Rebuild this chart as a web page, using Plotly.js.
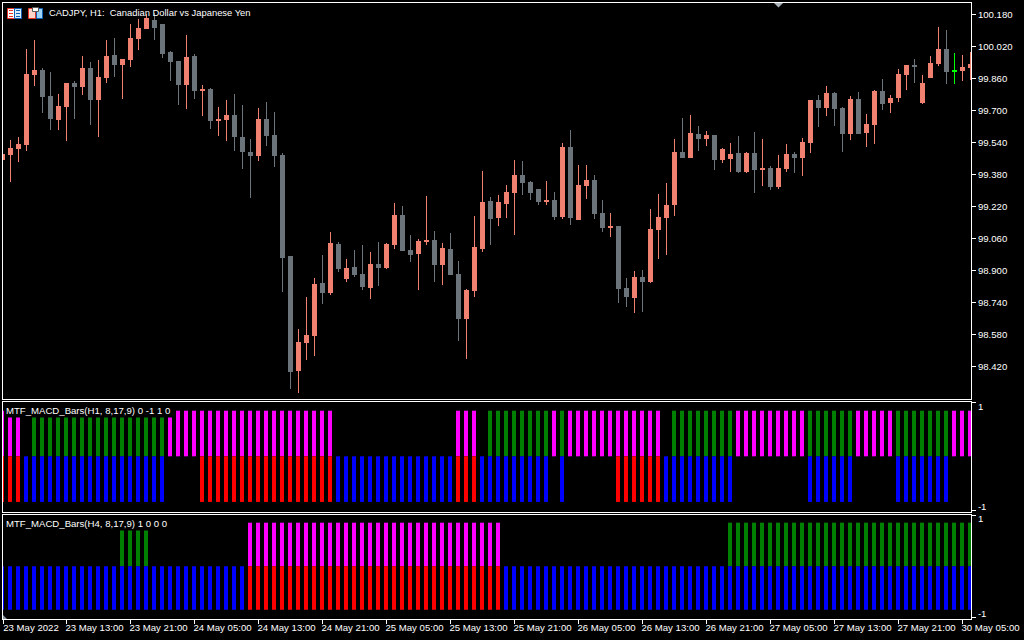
<!DOCTYPE html>
<html>
<head>
<meta charset="utf-8">
<script src="https://cdn.plot.ly/plotly-3.0.0.min.js"></script>
<style>
html,body{margin:0;padding:0;background:#000;overflow:hidden}
#chart{width:1024px;height:640px}
.boxlayer path{shape-rendering:crispEdges}
</style>
</head>
<body>
<div id="chart"></div>
<script>
const opens = [99.4545,99.4795,99.5095,99.5295,99.8795,99.8995,99.7695,99.6545,99.7195,99.8345,99.8195,99.9095,99.7545,99.8645,99.9745,99.9295,99.9545,100.0595,100.1095,100.1495,100.1295,99.9895,99.9445,99.8295,99.9695,99.7995,99.8045,99.6495,99.6545,99.6745,99.5645,99.4895,99.4745,99.6545,99.5745,99.4745,98.9695,98.3995,98.5395,98.5745,98.8345,98.7895,99.0295,98.8595,98.9145,98.8795,98.8145,98.9295,98.9145,99.0295,99.1745,98.9995,98.9845,99.0445,99.0495,98.9295,99.0045,98.8795,98.6595,98.7995,99.0095,99.2445,99.1645,99.2345,99.2895,99.3745,99.3395,99.3045,99.2445,99.2495,99.1695,99.5145,99.1545,99.3245,99.3495,99.1845,99.1145,99.1195,98.8095,98.7645,98.8645,98.8445,99.1045,99.1645,99.2295,99.4895,99.4645,99.5795,99.5595,99.5745,99.4545,99.4595,99.4845,99.3945,99.4845,99.4045,99.4095,99.3195,99.4095,99.4795,99.4645,99.5395,99.7495,99.7145,99.7845,99.7095,99.5845,99.7545,99.5895,99.6295,99.7945,99.7395,99.7645,99.8795,99.9245,99.7395,99.8645,99.9345,100.0045,99.8945,99.8995,99.9145];
const closes = [99.4795,99.5095,99.5295,99.8795,99.8995,99.7695,99.6595,99.7195,99.8345,99.8195,99.9095,99.7545,99.8645,99.9695,99.9295,99.9545,100.0595,100.1095,100.1595,100.1145,99.9845,99.9445,99.8295,99.9645,99.7995,99.8045,99.6495,99.6545,99.6745,99.5695,99.4945,99.4745,99.6545,99.5745,99.4745,98.9645,98.3945,98.5395,98.5745,98.8295,98.7895,99.0345,98.9095,98.9095,98.8795,98.8195,98.9295,98.9145,99.0295,99.1745,98.9995,98.9795,99.0445,99.0495,98.9295,99.0095,98.8795,98.6595,98.7995,99.0145,99.2395,99.1595,99.2395,99.2895,99.3745,99.3395,99.2895,99.2445,99.2495,99.1695,99.5145,99.1645,99.3245,99.3495,99.1845,99.1145,99.1195,98.8095,98.7695,98.8645,98.8445,99.1045,99.1645,99.2245,99.4895,99.4645,99.5845,99.5595,99.5745,99.4545,99.5045,99.4795,99.3945,99.4845,99.4045,99.4095,99.3195,99.4095,99.4795,99.4645,99.5395,99.7495,99.7145,99.7845,99.7095,99.5845,99.7545,99.5845,99.6295,99.7945,99.7345,99.7595,99.8795,99.9245,99.9195,99.8345,99.9345,100.0045,99.8945,99.8995,99.9145,99.9295];
const highs = [99.492,99.552,99.567,100.007,100.052,99.912,99.892,99.782,99.837,99.847,99.972,99.942,99.952,100.052,100.062,99.957,100.132,100.157,100.182,100.187,100.132,99.997,99.947,100.077,99.982,99.827,99.812,99.717,99.752,99.782,99.727,99.557,99.712,99.742,99.692,99.487,98.972,98.607,98.767,98.862,98.977,99.092,99.042,98.957,99.002,99.027,98.992,99.042,99.037,99.237,99.222,99.077,99.057,99.272,99.097,99.037,99.087,98.947,98.807,99.172,99.397,99.267,99.277,99.327,99.452,99.447,99.347,99.307,99.347,99.292,99.537,99.602,99.427,99.427,99.377,99.252,99.187,99.122,98.862,98.897,98.902,99.207,99.282,99.337,99.557,99.662,99.677,99.622,99.597,99.577,99.512,99.537,99.572,99.492,99.592,99.557,99.422,99.477,99.532,99.492,99.562,99.752,99.777,99.822,99.792,99.717,99.772,99.792,99.682,99.802,99.857,99.777,99.907,99.927,99.957,99.877,99.972,100.117,100.102,99.987,99.977,99.992];
const lows = [99.437,99.342,99.442,99.497,99.822,99.687,99.602,99.602,99.547,99.657,99.777,99.627,99.567,99.837,99.867,99.757,99.917,100.002,100.107,100.052,99.962,99.847,99.727,99.707,99.757,99.672,99.607,99.572,99.547,99.497,99.407,99.262,99.447,99.522,99.417,98.792,98.307,98.287,98.452,98.472,98.732,98.777,98.892,98.842,98.867,98.802,98.757,98.822,98.907,99.007,98.997,98.942,98.802,99.027,98.842,98.827,98.877,98.547,98.457,98.767,98.992,99.027,99.122,99.162,99.077,99.277,99.252,99.227,99.227,99.152,99.157,99.127,99.152,99.257,99.157,99.092,99.067,98.737,98.717,98.687,98.692,98.837,98.957,98.977,99.172,99.462,99.462,99.497,99.522,99.402,99.437,99.392,99.387,99.387,99.287,99.322,99.302,99.307,99.392,99.387,99.372,99.487,99.617,99.672,99.622,99.492,99.552,99.582,99.517,99.532,99.702,99.687,99.742,99.802,99.837,99.732,99.862,99.922,99.832,99.832,99.847,99.852];
const liveBar = 119;

// MACD histogram states, one character per bar: m magenta, g green, r red, b blue, - empty
const h1Upper = ("mmm-"+"ggggggggggggggggg"+"mmmm"+"mmmmmmmmmmmmmmmmm"+"---------------"+"mmm-"+"gggggggg"+"mg"+"mmmmmmmmmmmm"+"-"+"gggggggg"+"mmmmmmmmm"+"gggggg"+"mmmmm"+"ggggggg"+"mmm").split("");
const h1Lower = ("rrrb"+"bbbbbbbbbbbbbbbbb"+"----"+"rrrrrrrrrrrrrrrrr"+"bbbbbbbbbbbbbbb"+"rrrb"+"bbbbbbbb"+"-b"+"------"+"rrrrrr"+"b"+"bbbbbbbb"+"---------"+"bbbbbb"+"-----"+"bbbbbbb"+"---").split("");
const h4Upper = ("---------------"+"gggg"+"------------"+"mmmmmmmmmmmmmmmmmmmmmmmmmmmmmmmm"+"----------------------------"+"ggggggggggggggggggggggggggggggg").split("");
const h4Lower = ("bbbbbbbbbbbbbbbbbbbbbbbbbbbbbbb"+"rrrrrrrrrrrrrrrrrrrrrrrrrrrrrrrr"+"bbbbbbbbbbbbbbbbbbbbbbbbbbbbbbbbbbbbbbbbbbbbbbbbbbbbbbbbbbb").split("");

const h1Level = {up:0.84, down:-0.84};
const h4Level = {up:0.85, down:-0.85};
const h1Title = "MTF_MACD_Bars(H1, 8,17,9) 0 -1 1 0";
const h4Title = "MTF_MACD_Bars(H4, 8,17,9) 1 0 0 0";
const chartTitle = "CADJPY, H1:\u00a0\u00a0Canadian Dollar vs Japanese Yen";
const priceTicks = [100.18,100.02,99.86,99.70,99.54,99.38,99.22,99.06,98.90,98.74,98.58,98.42];
const priceLabels = ["100.180","100.020","99.860","99.700","99.540","99.380","99.220","99.060","98.900","98.740","98.580","98.420"];
const timeLabels = ["23 May 2022","23 May 13:00","23 May 21:00","24 May 05:00","24 May 13:00","24 May 21:00","25 May 05:00","25 May 13:00","25 May 21:00","26 May 05:00","26 May 13:00","26 May 21:00","27 May 05:00","27 May 13:00","27 May 21:00","30 May 05:00"];

const BULL="#f08070", BEAR="#6b737b", LIVE="#00ff00";
const COLORS={m:"#ff00ff",g:"#008000",r:"#ff0000",b:"#0000ff"};
const FONT="Liberation Sans, Arial, sans-serif";
const xRange=[0.0625,121.0625];
const barX=opens.map((_,i)=>i);
const keep=barX.filter(i=>i!==liveBar);
const pick=(a,idx)=>idx.map(i=>a[i]);

function candle(idx,up,down,name){
  return {type:"candlestick",xaxis:"x",yaxis:"y",name,x:idx,
    open:pick(opens,idx),high:pick(highs,idx),low:pick(lows,idx),close:pick(closes,idx),
    whiskerwidth:0,hoverinfo:"skip",showlegend:false,
    increasing:{line:{color:up,width:1},fillcolor:up},
    decreasing:{line:{color:down,width:1},fillcolor:down}};
}
function bars(states,key,level,xa,ya){
  const idx=barX.filter(i=>states[i]===key);
  return {type:"bar",x:idx,y:idx.map(()=>level),xaxis:xa,yaxis:ya,width:0.5,offset:-0.3125,
    marker:{color:COLORS[key],line:{width:0}},hoverinfo:"skip",showlegend:false};
}
const traces=[
  candle(keep,BULL,BEAR,"CADJPY"),
  candle([liveBar],LIVE,LIVE,"live"),
  bars(h1Upper,"m",h1Level.up,"x2","y2"),bars(h1Upper,"g",h1Level.up,"x2","y2"),
  bars(h1Lower,"r",h1Level.down,"x2","y2"),bars(h1Lower,"b",h1Level.down,"x2","y2"),
  bars(h4Upper,"m",h4Level.up,"x3","y3"),bars(h4Upper,"g",h4Level.up,"x3","y3"),
  bars(h4Lower,"r",h4Level.down,"x3","y3"),bars(h4Lower,"b",h4Level.down,"x3","y3")
];

const W=968,H=616;
const px=x=>(x-3)/W, py=y=>(619-y)/H;
function rect(x0,y0,x1,y1,fill,line){
  return {type:"rect",xref:"paper",yref:"paper",x0:px(x0),x1:px(x1),y0:py(y0),y1:py(y1),
    fillcolor:fill,line:{color:line||fill,width:line?1:0},layer:"above"};
}
function tri(pts,fill){
  return {type:"path",xref:"paper",yref:"paper",
    path:pts.map((p,i)=>(i?"L":"M")+px(p[0])+","+py(p[1])).join(" ")+" Z",
    fillcolor:fill,line:{width:0},layer:"above"};
}
const shapes=[
  rect(7.5,8.5,14.5,18.5,"#ffffff","#e8332a"),
  rect(14.5,8.5,21.5,18.5,"#d8ecfa","#0f5fb5"),
  rect(9,10,13,11,"#e8332a"),rect(9,13,13,14,"#e8332a"),rect(9,16,13,17,"#e8332a"),
  rect(16,10,20,11,"#0f5fb5"),rect(16,13,20,14,"#0f5fb5"),rect(16,16,20,17,"#0f5fb5"),
  rect(28.5,8.5,35.5,18.5,"#fbd3c8","#e8332a"),
  rect(36.5,8.5,42.5,18.5,"#9fd3f5","#0f5fb5"),
  rect(32.5,7.5,38.5,11.5,"#ffffff","#555555"),
  tri([[774,3],[783,3],[778.5,7.5]],"#aab2ba"),
  tri([[3,615],[3,619],[7,619]],"#8a98a5")
];
const lab=(text,top)=>({text,xref:"paper",yref:"paper",x:px(3.5),y:py(top),xanchor:"left",yanchor:"top",
  showarrow:false,align:"left",bgcolor:"#000000",borderpad:1,width:165,height:12,
  font:{family:FONT,size:9.6,color:"#ffffff"}});

const xBase={type:"linear",range:xRange,showgrid:false,zeroline:false,showline:true,mirror:true,
  linecolor:"#ffffff",linewidth:1,ticks:"",showticklabels:false,fixedrange:true};
const yBase={showgrid:false,zeroline:false,showline:true,mirror:true,linecolor:"#ffffff",linewidth:1,side:"right",
  ticks:"outside",ticklen:4,tickwidth:1,tickfont:{family:FONT,size:9.6,color:"#ffffff"},fixedrange:true};
const signalY=(a)=>Object.assign({},yBase,a,{
  tickmode:"array",tickvals:[0.92,-0.92],ticktext:["1","-1"],tickcolor:"rgba(0,0,0,0)",
  minor:{tickmode:"array",tickvals:[1,-1],ticks:"outside",ticklen:4,tickwidth:1,tickcolor:"#ffffff",showgrid:false}});

const layout={
  width:1024,height:640,paper_bgcolor:"#000000",plot_bgcolor:"#000000",
  margin:{l:3,r:53,t:3,b:21,pad:0},showlegend:false,
  boxmode:"overlay",boxgap:0.5,boxgroupgap:0,barmode:"overlay",
  font:{family:FONT,size:9.6,color:"#ffffff"},
  title:{text:chartTitle,x:49/1024,xanchor:"left",xref:"container",y:1-13/640,yref:"container",yanchor:"middle",
    font:{family:FONT,size:9.4,color:"#ffffff"}},
  xaxis:Object.assign({},xBase,{anchor:"y",rangeslider:{visible:false}}),
  xaxis2:Object.assign({},xBase,{anchor:"y2"}),
  xaxis3:Object.assign({},xBase,{anchor:"y3",ticks:"outside",ticklen:4,tickwidth:1,tickcolor:"#ffffff",
    showticklabels:true,tickmode:"array",tickvals:timeLabels.map((_,k)=>k?k*8:xRange[0]),ticktext:timeLabels,tickangle:0,
    ticklabelshift:28,ticklabelstandoff:-5,ticklabeloverflow:"allow",tickfont:{family:FONT,size:9.6,color:"#ffffff"}}),
  yaxis:Object.assign({},yBase,{anchor:"x",domain:[220/H,1],range:[98.257,100.237],tickmode:"array",tickvals:priceTicks,ticktext:priceLabels,tickcolor:"#ffffff"}),
  yaxis2:signalY({anchor:"x2",domain:[107/H,217/H],range:[-1.025,1]}),
  yaxis3:signalY({anchor:"x3",domain:[0,104/H],range:[-1.03,1]}),
  shapes,
  annotations:[lab(h1Title,402),lab(h4Title,515)]
};
Plotly.newPlot("chart",traces,layout,{staticPlot:true,displayModeBar:false});
</script>
</body>
</html>
